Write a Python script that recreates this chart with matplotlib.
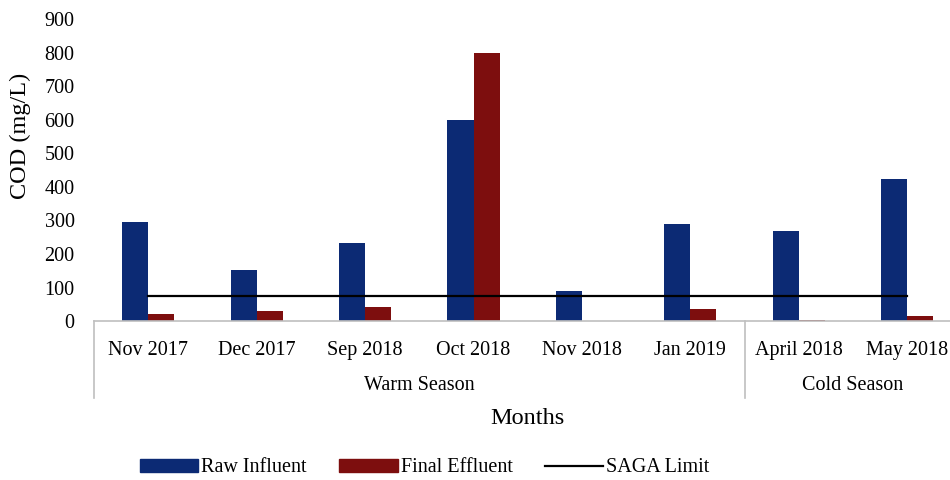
import matplotlib.pyplot as plt
import numpy as np
from matplotlib.patches import Patch
from matplotlib.lines import Line2D

# Data
months = ['Nov 2017', 'Dec 2017', 'Sep 2018', 'Oct 2018', 'Nov 2018', 'Jan 2019', 'April 2018', 'May 2018']
raw_influent = [295, 151, 232, 600, 90, 290, 268, 424]
final_effluent = [21, 31, 41, 800, 0, 35, 4, 15]
saga_limit = [75] * len(months)
seasons = ['Warm Season', 'Cold Season']
season_bounds = [(0, 5), (6, 7)]

plt.rcParams['font.family'] = ['Liberation Serif', 'DejaVu Serif']

blue = '#0C2A74'
red = '#7D0E0E'
grey = '#BFBFBF'

fig = plt.figure(figsize=(9.5, 4.8), dpi=100)
ax = fig.add_axes([0.099, 0.331, 0.913, 0.629])

x = np.arange(len(months))
w = 0.24
ax.bar(x - w / 2, raw_influent, w, color=blue)
ax.bar(x + w / 2, final_effluent, w, color=red)
ax.plot(x, saga_limit, color='black', lw=1.6)

ax.set_xlim(-0.5, len(months) - 0.5)
ax.set_ylim(0, 900)
ax.set_yticks(range(0, 901, 100))
ax.set_xticks(x)
ax.set_xticklabels(months)
ax.tick_params(axis='both', length=0, labelsize=14.5)
ax.tick_params(axis='y', pad=14)
ax.tick_params(axis='x', pad=14)

for s in ['top', 'right', 'left']:
    ax.spines[s].set_visible(False)
ax.spines['bottom'].set_color(grey)
ax.spines['bottom'].set_linewidth(1.2)

# season grouping
trans = ax.get_xaxis_transform()
for b in [-0.5, 5.5, 7.5]:
    ax.plot([b, b], [0, -0.255], transform=trans, color=grey, lw=1.2, clip_on=False)
for name, (a, b) in zip(seasons, season_bounds):
    ax.text((a + b) / 2, -0.212, name, transform=trans, ha='center', va='center', fontsize=14.5)

fig.text(0.555, 0.128, 'Months', ha='center', va='center', fontsize=17.5)
fig.text(0.021, 0.717, 'COD (mg/L)', rotation=90, ha='center', va='center', fontsize=17.5)

handles = [Patch(color=blue, label='Raw Influent'),
           Patch(color=red, label='Final Effluent'),
           Line2D([], [], color='black', lw=1.6, label='SAGA Limit')]
fig.legend(handles=handles, loc='center', bbox_to_anchor=(0.447, 0.025), ncol=3,
           frameon=False, fontsize=14.5, handlelength=2.9, handleheight=0.6,
           columnspacing=1.6, handletextpad=0.15)

fig.savefig('out.png', dpi=100)
